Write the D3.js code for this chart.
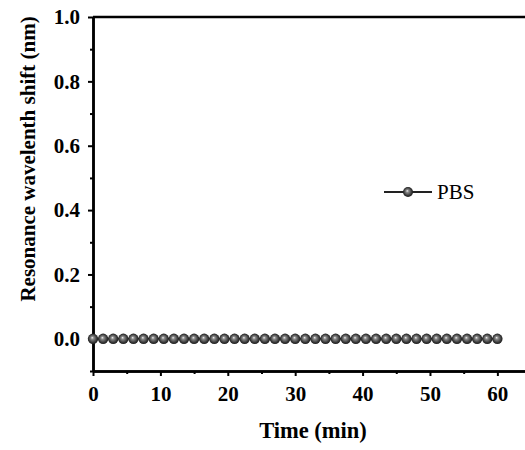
<!DOCTYPE html>
<html>
<head>
<meta charset="utf-8">
<script src="https://cdn.jsdelivr.net/npm/d3@7"></script>
<style>
  body { margin: 0; background: #fff; }
  text { font-family: "Liberation Serif", "Times New Roman", serif; }
</style>
</head>
<body>
<div id="chart"></div>
<script>
// time points (min) and PBS shift (nm)
const times = [0, 1.5, 3, 4.5, 6, 7.5, 9, 10.5, 12, 13.5, 15, 16.5, 18, 19.5, 21, 22.5, 24, 25.5, 27, 28.5,
               30, 31.5, 33, 34.5, 36, 37.5, 39, 40.5, 42, 43.5, 45, 46.5, 48, 49.5, 51, 52.5, 54, 55.5, 57, 58.5, 60]
const pbsShift = [0, 0, 0, 0, 0, 0, 0, 0, 0, 0, 0, 0, 0, 0, 0, 0, 0, 0, 0, 0,
                  0, 0, 0, 0, 0, 0, 0, 0, 0, 0, 0, 0, 0, 0, 0, 0, 0, 0, 0, 0, 0]
const xTicks = [0, 10, 20, 30, 40, 50, 60]
const yTicks = [0.0, 0.2, 0.4, 0.6, 0.8, 1.0]
const seriesName = 'PBS'

let w = 525, h = 450
let m = {left: 93, right: 0, top: 17, bottom: 79}

let svg = d3.select('#chart').append('svg')
    .attr('width', w)
    .attr('height', h)

// shiny ball marker
let grad = svg.append('defs').append('radialGradient')
    .attr('id', 'ball')
    .attr('cx', '50%').attr('cy', '50%').attr('r', '55%')
    .attr('fx', '42%').attr('fy', '38%')
grad.append('stop').attr('offset', '0%').attr('stop-color', '#f0f0f0')
grad.append('stop').attr('offset', '25%').attr('stop-color', '#8a8a8a')
grad.append('stop').attr('offset', '70%').attr('stop-color', '#3a3a3a')
grad.append('stop').attr('offset', '100%').attr('stop-color', '#111')

let x = d3.scaleLinear().domain([0, 64.1]).range([m.left, w - m.right])
let y = d3.scaleLinear().domain([-0.1, 1.0]).range([h - m.bottom, m.top])

// axes (outward ticks), minor ticks at half steps
svg.append('g')
    .attr('transform', `translate(0,${h - m.bottom})`)
    .call(d3.axisBottom(x).tickValues(xTicks).tickSize(5).tickSizeOuter(0).tickPadding(10))
svg.append('g')
    .attr('transform', `translate(0,${h - m.bottom})`)
    .call(d3.axisBottom(x).tickValues(d3.range(5, 64, 10)).tickSize(3).tickSizeOuter(0).tickFormat(''))

svg.append('g')
    .attr('transform', `translate(${m.left},0)`)
    .call(d3.axisLeft(y).tickValues(yTicks).tickSize(5).tickSizeOuter(0).tickPadding(8).tickFormat(d3.format('.1f')))
svg.append('g')
    .attr('transform', `translate(${m.left},0)`)
    .call(d3.axisLeft(y).tickValues([-0.1, 0.1, 0.3, 0.5, 0.7, 0.9]).tickSize(3).tickSizeOuter(0).tickFormat(''))

svg.selectAll('.domain').attr('stroke', '#000').attr('stroke-width', 2.5)
svg.selectAll('.tick line').attr('stroke', '#000').attr('stroke-width', 2)
svg.selectAll('.tick text')
    .attr('fill', '#000')
    .style('font-family', '"Liberation Serif", serif')
    .style('font-size', '21px')
    .style('font-weight', 'bold')

// top frame line
svg.append('line')
    .attr('x1', m.left).attr('x2', w)
    .attr('y1', y(1.0)).attr('y2', y(1.0))
    .attr('stroke', '#000').attr('stroke-width', 2.5)

// axis titles
svg.append('text')
    .attr('x', 313)
    .attr('y', 438)
    .attr('text-anchor', 'middle')
    .style('font-size', '22.5px')
    .style('font-weight', 'bold')
    .text('Time (min)')

svg.append('text')
    .attr('transform', 'translate(35,159) rotate(-90)')
    .attr('text-anchor', 'middle')
    .style('font-size', '21px')
    .style('font-weight', 'bold')
    .text('Resonance wavelenth shift (nm)')

// series
let data = times.map((t, i) => ({t: t, v: pbsShift[i]}))

svg.append('path')
    .datum(data)
    .attr('fill', 'none')
    .attr('stroke', '#222')
    .attr('stroke-width', 1.5)
    .attr('d', d3.line().x(d => x(d.t)).y(d => y(d.v)))

svg.selectAll('circle.pt')
    .data(data)
    .enter()
    .append('circle')
    .attr('class', 'pt')
    .attr('cx', d => x(d.t))
    .attr('cy', d => y(d.v))
    .attr('r', 5.2)
    .attr('fill', 'url(#ball)')

// legend
let lg = svg.append('g').attr('transform', 'translate(384,192)')
lg.append('line')
    .attr('x1', 0).attr('x2', 48)
    .attr('stroke', '#222').attr('stroke-width', 2)
lg.append('circle')
    .attr('cx', 24).attr('r', 5)
    .attr('fill', 'url(#ball)')
lg.append('text')
    .attr('x', 53).attr('y', 7)
    .style('font-size', '21px')
    .text(seriesName)
</script>
</body>
</html>
